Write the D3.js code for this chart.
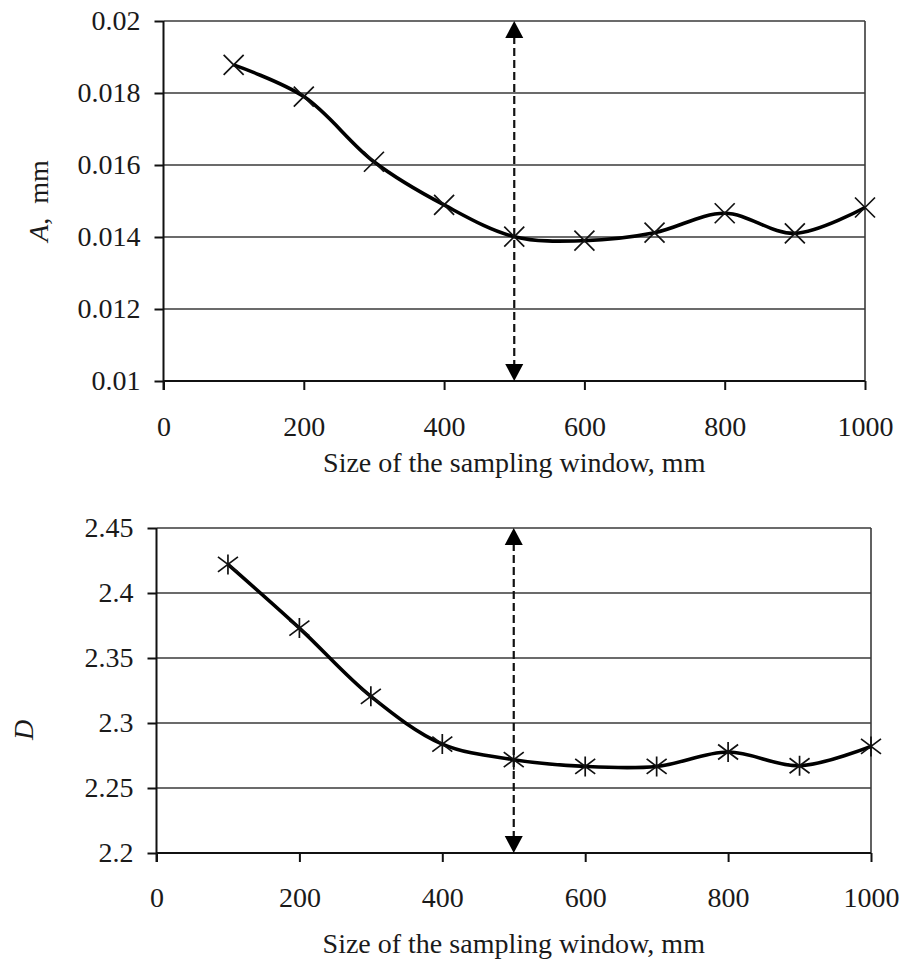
<!DOCTYPE html>
<html>
<head>
<meta charset="utf-8">
<script src="https://cdn.jsdelivr.net/npm/d3@7"></script>
<style>
  html, body { margin: 0; padding: 0; background: #fff; }
  svg { display: block; }
  svg text { font-family: Liberation Serif, Times New Roman, serif !important; fill: #1a1a1a; }
</style>
</head>
<body>
<svg id="chart" width="904" height="964"></svg>
<script>
// Window sizes (mm) shared by both panels
const windowSizes = [100, 200, 300, 400, 500, 600, 700, 800, 900, 1000];
// Amplitude parameter A (mm)
const amplitudeA = [0.01878, 0.0179, 0.01609, 0.01489, 0.01401, 0.0139, 0.01412, 0.01466, 0.0141, 0.01482];
// Fractal dimension D
const fractalD = [2.422, 2.373, 2.3205, 2.2838, 2.2718, 2.2666, 2.2666, 2.2777, 2.2671, 2.282];

const xTicks = [0, 200, 400, 600, 800, 1000];
const xTickLabels = ["0", "200", "400", "600", "800", "1000"];
const aTicks = [0.01, 0.012, 0.014, 0.016, 0.018, 0.02];
const aTickLabels = ["0.01", "0.012", "0.014", "0.016", "0.018", "0.02"];
const dTicks = [2.2, 2.25, 2.3, 2.35, 2.4, 2.45];
const dTickLabels = ["2.2", "2.25", "2.3", "2.35", "2.4", "2.45"];
const optimumWindow = 500;
const xTitle = "Size of the sampling window, mm";

const FONT = "Liberation Serif, Times New Roman, serif";
const svg = d3.select("#chart").attr("font-family", FONT);

function panel(cfg) {
  const g = svg.append("g");
  const x = d3.scaleLinear().domain([0, 1000]).range([cfg.left, cfg.right]);
  const y = d3.scaleLinear().domain(cfg.yDomain).range([cfg.bottom, cfg.top]);

  // horizontal gridlines
  g.append("g").selectAll("line").data(cfg.yTicks.slice(1)).join("line")
    .attr("x1", cfg.left).attr("x2", cfg.right)
    .attr("y1", d => y(d)).attr("y2", d => y(d))
    .attr("stroke", "#3a3a3a").attr("stroke-width", 1.6);

  // right border of the plot area
  g.append("line")
    .attr("x1", cfg.right).attr("x2", cfg.right)
    .attr("y1", cfg.top).attr("y2", cfg.bottom)
    .attr("stroke", "#3a3a3a").attr("stroke-width", 1.6);

  // y axis
  const yAxis = d3.axisLeft(y).tickValues(cfg.yTicks)
    .tickFormat((d, i) => cfg.yLabels[i]).tickSize(9).tickPadding(14);
  const ya = g.append("g").attr("transform", `translate(${cfg.left},0)`).call(yAxis)
    .attr("font-family", FONT).attr("font-size", 28);
  ya.select(".domain").attr("stroke", "#111").attr("stroke-width", 2).attr("d", `M0,${cfg.bottom + 9}V${cfg.top}`);
  ya.selectAll(".tick line").attr("stroke", "#111").attr("stroke-width", 2);
  ya.selectAll(".tick text").attr("fill", "#1a1a1a");

  // x axis
  const xAxis = d3.axisBottom(x).tickValues(xTicks)
    .tickFormat((d, i) => xTickLabels[i]).tickSize(9).tickPadding(cfg.xPad);
  const xa = g.append("g").attr("transform", `translate(0,${cfg.bottom})`).call(xAxis)
    .attr("font-family", FONT).attr("font-size", 28);
  xa.select(".domain").attr("stroke", "#111").attr("stroke-width", 2).attr("d", `M${cfg.left},0H${cfg.right}`);
  xa.selectAll(".tick line").attr("stroke", "#111").attr("stroke-width", 2);
  xa.selectAll(".tick text").attr("fill", "#1a1a1a");

  // x title
  g.append("text")
    .attr("x", (cfg.left + cfg.right) / 2).attr("y", cfg.xTitleY)
    .attr("text-anchor", "middle").attr("font-size", 28)
    .text(xTitle);

  // y title
  const yt = g.append("text")
    .attr("transform", `translate(${cfg.yTitleX},${cfg.yTitleY}) rotate(-90)`)
    .attr("text-anchor", "middle").attr("font-size", 28);
  yt.append("tspan").style("font-style", "italic").text(cfg.yTitleItalic);
  if (cfg.yTitleRest) yt.append("tspan").text(cfg.yTitleRest);

  // dashed double arrow at the chosen window size
  const ax = x(optimumWindow);
  const head = 17, halfW = 9;
  g.append("line")
    .attr("x1", ax).attr("x2", ax)
    .attr("y1", cfg.top + head - 2).attr("y2", cfg.bottom - head + 2)
    .attr("stroke", "#111").attr("stroke-width", 2.2)
    .attr("stroke-dasharray", "8,4");
  g.append("path")
    .attr("d", `M${ax},${cfg.top}L${ax - halfW},${cfg.top + head}L${ax + halfW},${cfg.top + head}Z`)
    .attr("fill", "#000");
  g.append("path")
    .attr("d", `M${ax},${cfg.bottom}L${ax - halfW},${cfg.bottom - head}L${ax + halfW},${cfg.bottom - head}Z`)
    .attr("fill", "#000");

  // smoothed series line
  const pts = windowSizes.map((w, i) => [w, cfg.values[i]]);
  const line = d3.line().x(d => x(d[0])).y(d => y(d[1])).curve(d3.curveCatmullRom.alpha(0.5));
  g.append("path").datum(pts)
    .attr("d", line).attr("fill", "none")
    .attr("stroke", "#000").attr("stroke-width", 3.6)
    .attr("stroke-linejoin", "round");

  // markers
  const r = 10;
  const m = g.append("g").selectAll("g").data(pts).join("g")
    .attr("transform", d => `translate(${x(d[0])},${y(d[1])})`);
  if (cfg.marker === "x") {
    m.append("path").attr("d", `M${-r},${-r}L${r},${r}M${-r},${r}L${r},${-r}`)
      .attr("stroke", "#111").attr("stroke-width", 1.7).attr("fill", "none");
  } else {
    m.append("path").attr("d", `M${-r},${-r * 0.75}L${r},${r * 0.75}M${-r},${r * 0.75}L${r},${-r * 0.75}M0,${-r}L0,${r}`)
      .attr("stroke", "#111").attr("stroke-width", 1.7).attr("fill", "none");
  }
}

panel({
  left: 163.5, right: 865, top: 21, bottom: 381,
  yDomain: [0.01, 0.02], yTicks: aTicks, yLabels: aTickLabels,
  values: amplitudeA, marker: "x", xPad: 26,
  xTitleY: 472, yTitleX: 48, yTitleY: 201,
  yTitleItalic: "A", yTitleRest: ",\u00a0 mm"
});

panel({
  left: 156.5, right: 871, top: 528, bottom: 853,
  yDomain: [2.2, 2.45], yTicks: dTicks, yLabels: dTickLabels,
  values: fractalD, marker: "*", xPad: 25,
  xTitleY: 953, yTitleX: 33, yTitleY: 730,
  yTitleItalic: "D", yTitleRest: null
});
</script>
</body>
</html>
